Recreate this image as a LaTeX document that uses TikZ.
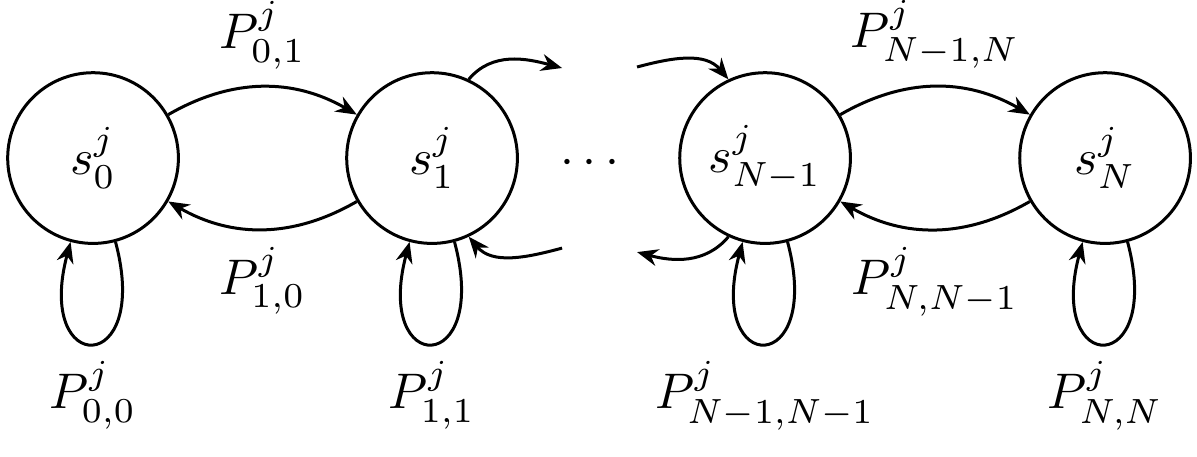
\documentclass[tikz,border=0pt]{standalone}
\usepackage{amsmath}
\usetikzlibrary{arrows.meta}
\begin{document}
\begin{tikzpicture}[
  state/.style={circle, draw, semithick, minimum size=1.2cm, inner sep=0pt},
  trans/.style={->, >={Stealth[length=4.2pt, width=3.4pt]}, semithick},
  selfloop/.style={out=-75, in=-105, looseness=8}
]
  \useasboundingbox (-0.654,-2.095) rectangle (7.760,1.111);
  % States
  \node[state] (s0)  at (0,0)     {$s_0^j$};
  \node[state] (s1)  at (2.383,0) {$s_1^j$};
  \node        (dots) at (3.522,-0.035) {$\cdots$};
  \node[state] (sN1) at (4.724,0) {$s_{N-1}^j$};
  \node[state] (sN)  at (7.114,0) {$s_N^j$};
  % Free ends towards the dots
  \coordinate (d1) at (3.297, 0.633);
  \coordinate (d2) at (3.297,-0.633);
  \coordinate (d3) at (3.824, 0.640);
  \coordinate (d4) at (3.824,-0.661);
  % Forward and backward transitions
  \draw[trans] (s0.30) to[out=30,in=150] node[above]{$P_{0,1}^j$} (s1.150);
  \draw[trans] (s1.210) to[out=210,in=-30] node[below]{$P_{1,0}^j$} (s0.-30);
  \draw[trans] (sN1.30) to[out=30,in=150] node[above]{$P_{N-1,N}^j$} (sN.150);
  \draw[trans] (sN.210) to[out=210,in=-30] node[below]{$P_{N,N-1}^j$} (sN1.-30);
  % Transitions to and from the dots
  \draw[trans] (s1.65) to[out=50,in=165] (d1);
  \draw[trans] (d2) to[out=195,in=-50] (s1.-65);
  \draw[trans] (d3) to[out=15,in=130] (sN1.115);
  \draw[trans] (sN1.-115) to[out=-130,in=-15] (d4);
  % Self loops
  \draw[trans] (s0)  to[selfloop] node[below]{$P_{0,0}^j$} (s0);
  \draw[trans] (s1)  to[selfloop] node[below]{$P_{1,1}^j$} (s1);
  \draw[trans] (sN1) to[selfloop] node[below]{$P_{N-1,N-1}^j$} (sN1);
  \draw[trans] (sN)  to[selfloop] node[below]{$P_{N,N}^j$} (sN);
\end{tikzpicture}
\end{document}
